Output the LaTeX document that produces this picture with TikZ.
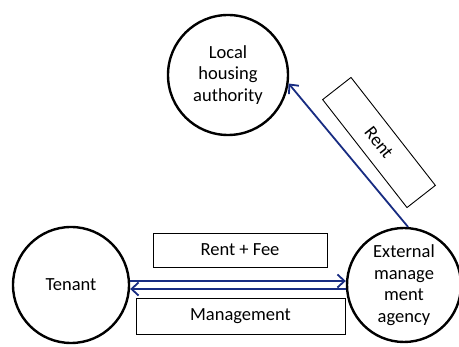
\documentclass[tikz,border=0pt]{standalone}
\usepackage{fontspec}
\setmainfont{Carlito}
\usetikzlibrary{arrows.meta, positioning}
\definecolor{flowblue}{RGB}{24,44,130}

\begin{document}
\begin{tikzpicture}[x=1pt, y=-1pt,
    party/.style={circle, draw, line width=2.4pt, inner sep=0pt, align=center,
      font=\fontsize{18.5}{21.5}\selectfont},
    flowbox/.style={draw, line width=0.9pt, inner sep=0pt,
      font=\fontsize{18.5}{21.5}\selectfont},
    flow/.style={-{Straight Barb[length=7pt, width=13pt]}, line width=1.8pt, flowblue}]
    \useasboundingbox (0,0) rectangle (459,347);

    % Parties
    \node[party, minimum size=120pt] (lha) at (228,75) {Local\\housing\\authority};
    \node[party, minimum size=116pt] (tenant) at (71,285) {Tenant};
    \node[party, minimum size=114pt] (ext) at (404,285) {External\\manage\\ment\\agency};

    % Labels
    \node[flowbox, minimum width=174pt, minimum height=34pt] (rentfee) at (240,250) {Rent + Fee};
    \node[flowbox, minimum width=209pt, minimum height=36pt] (mgmt) at (240.5,316) {Management};
    \node[flowbox, minimum width=137pt, minimum height=36pt, rotate=-52] (rent) at (379,142.5) {Rent};

    % Flows
    \draw[flow] ([yshift=4pt]tenant.east) -- ([yshift=4pt]ext.west);
    \draw[flow] ([yshift=-4pt]ext.west) -- ([yshift=-4pt]tenant.east);
    \draw[flow] (ext.86) -- (lha.-8);
\end{tikzpicture}
\end{document}
